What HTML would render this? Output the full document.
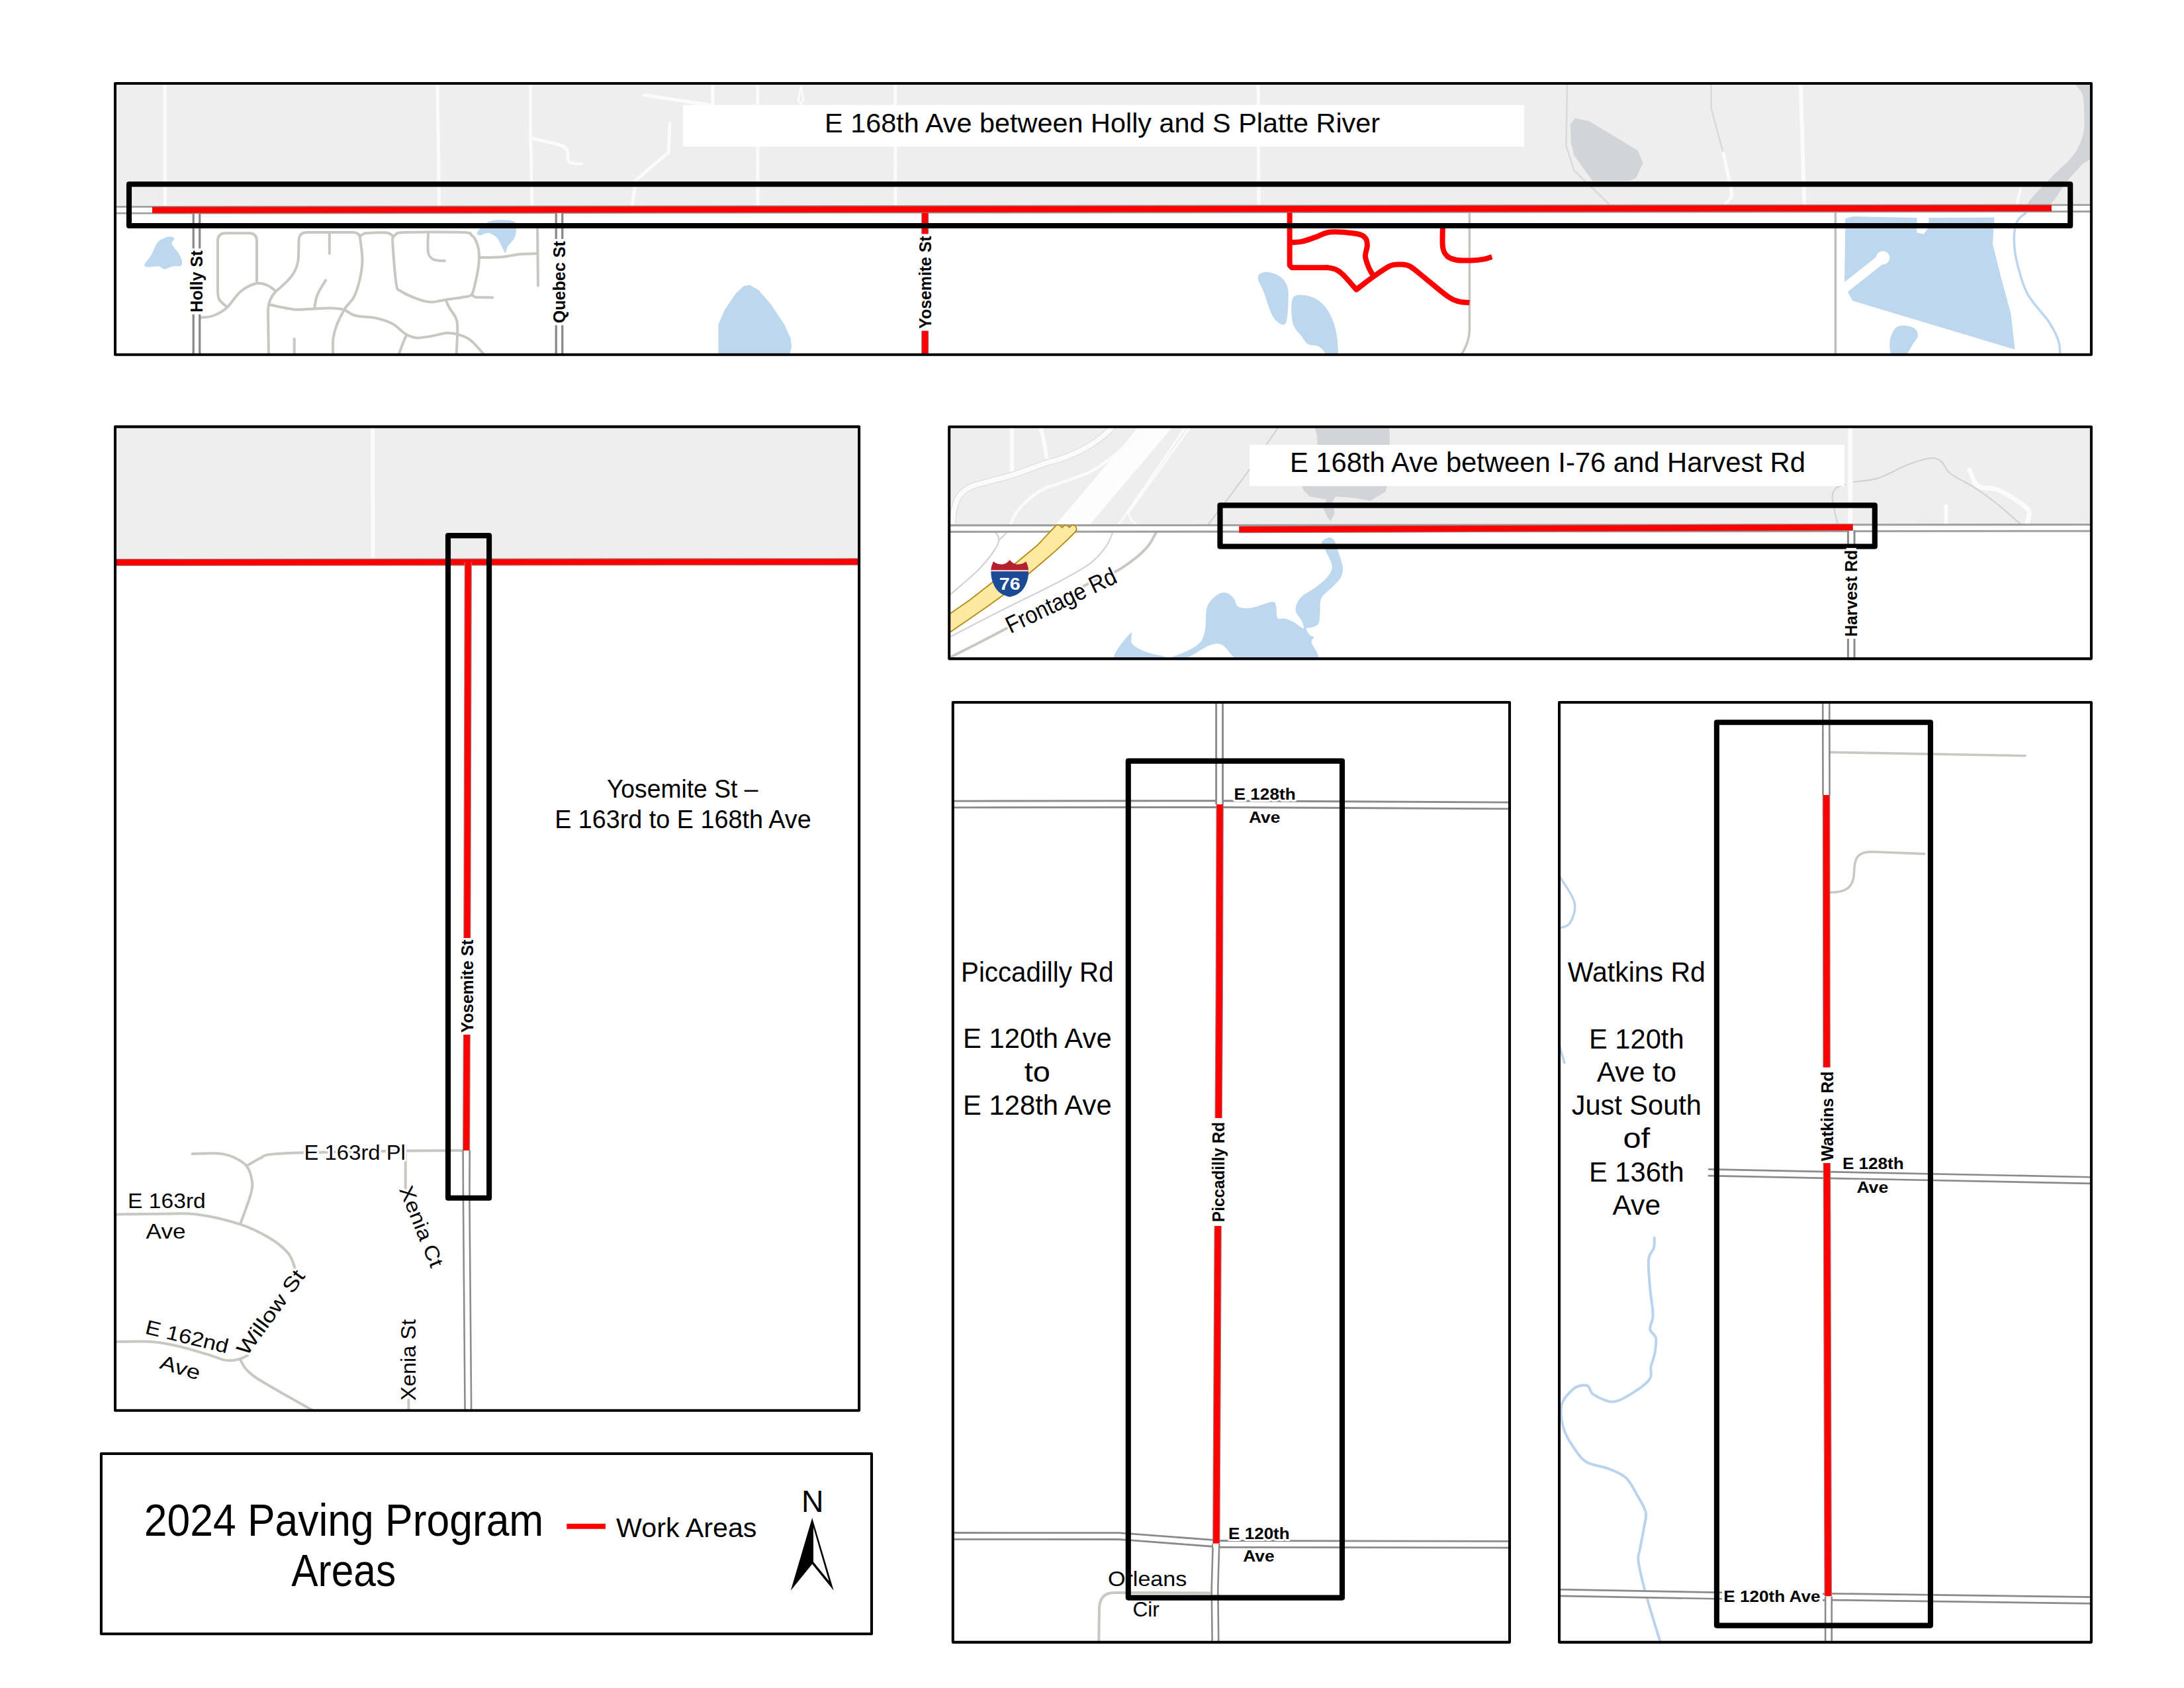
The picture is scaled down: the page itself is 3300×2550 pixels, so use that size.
<!DOCTYPE html><html><head><meta charset="utf-8"><title>2024 Paving Program Areas</title><style>html,body{margin:0;padding:0;background:#fff}body{width:3300px;height:2550px;overflow:hidden}</style></head><body><svg width="3300" height="2550" viewBox="0 0 3300 2550" style="display:block">
<defs>
<clipPath id="cp1"><rect x="174.0" y="126.0" width="2985.9" height="409.70000000000005"/></clipPath>
<clipPath id="cp2"><rect x="174.0" y="644.6" width="1124.1" height="1486.2000000000003"/></clipPath>
<clipPath id="cp3"><rect x="1434.2" y="644.7" width="1725.7" height="350.4"/></clipPath>
<clipPath id="cp4"><rect x="1439.8" y="1061.05" width="841.2" height="1419.7500000000002"/></clipPath>
<clipPath id="cp5"><rect x="2356.0" y="1061.05" width="803.9000000000001" height="1419.7500000000002"/></clipPath>
<clipPath id="clg"><rect x="152.9" y="2196.0" width="1164.1" height="272.1999999999998"/></clipPath>
</defs>
<rect width="3300" height="2550" fill="#fff"/>
<g clip-path="url(#cp1)">
<path d="M170.0,120.0 L3165.0,120.0 L3165.0,309.2 L170.0,311.8Z" fill="#eeeeee" />
<path d="M3135.3,124.0 C3137.9,120.9 3157.6,106.8 3162.0,124.0 C3166.4,141.2 3164.8,206.1 3162.0,227.0 C3159.2,247.9 3151.8,241.5 3145.3,249.4 C3138.8,257.3 3131.2,264.1 3122.9,274.2 C3114.6,284.3 3105.4,304.0 3095.5,310.0 C3085.6,316.0 3062.8,316.8 3063.2,310.0 C3063.6,303.2 3086.4,281.9 3098.0,269.3 C3109.6,256.7 3124.5,245.6 3132.8,234.4 C3141.1,223.2 3145.1,212.8 3147.8,202.0 C3150.5,191.2 3149.2,179.7 3149.0,169.8 C3148.8,159.9 3148.8,150.0 3146.5,142.4 C3144.2,134.8 3132.7,127.1 3135.3,124.0Z" fill="#d1d5d7" />
<path d="M2372.7,188.7 L2379.6,178.4 L2401.3,183.0 L2474.6,227.6 L2482.6,245.9 L2472.3,268.8 L2463.0,272.9 L2406.0,272.9 L2378.4,234.5 L2373.9,216.0Z" fill="#d1d5d7" />
<path d="M249.0,124.0 L249.5,310.0" fill="none" stroke="#fbfbfb" stroke-width="5" stroke-linecap="round" stroke-linejoin="round" />
<path d="M661.0,124.0 L663.5,310.0" fill="none" stroke="#fbfbfb" stroke-width="5" stroke-linecap="round" stroke-linejoin="round" />
<path d="M801.5,124.0 L801.8,208.0 L804.0,310.0" fill="none" stroke="#fbfbfb" stroke-width="4.5" stroke-linecap="round" stroke-linejoin="round" />
<path d="M803.3,209.0 C809.7,210.5 832.9,215.2 841.8,218.0 C850.6,220.8 853.4,221.6 856.4,226.0 C859.4,230.4 856.3,240.9 860.0,244.5 C863.7,248.1 875.3,247.0 878.4,247.5" fill="none" stroke="#fbfbfb" stroke-width="5" stroke-linecap="round" stroke-linejoin="round" />
<path d="M973.6,143.8 L1072.5,158.5" fill="none" stroke="#fbfbfb" stroke-width="5" stroke-linecap="round" stroke-linejoin="round" />
<path d="M1077.0,124.0 L1077.0,160.0" fill="none" stroke="#fbfbfb" stroke-width="5" stroke-linecap="round" stroke-linejoin="round" />
<path d="M1144.7,124.0 L1145.0,310.0" fill="none" stroke="#fbfbfb" stroke-width="5" stroke-linecap="round" stroke-linejoin="round" />
<path d="M1352.7,124.0 L1353.0,310.0" fill="none" stroke="#fbfbfb" stroke-width="5" stroke-linecap="round" stroke-linejoin="round" />
<path d="M1210.0,131.0 L1206.0,152.0 L1210.0,157.0 L1214.0,150.0 L1210.0,131.0" fill="none" stroke="#fbfbfb" stroke-width="3" stroke-linecap="round" stroke-linejoin="round" />
<path d="M1012.0,186.0 L1010.3,230.0 L960.8,272.0 L955.3,310.0" fill="none" stroke="#fbfbfb" stroke-width="5" stroke-linecap="round" stroke-linejoin="round" />
<path d="M1901.0,124.0 L1902.0,310.0" fill="none" stroke="#fbfbfb" stroke-width="5" stroke-linecap="round" stroke-linejoin="round" />
<path d="M2720.7,124.0 L2726.4,310.0" fill="none" stroke="#fbfbfb" stroke-width="6" stroke-linecap="round" stroke-linejoin="round" />
<path d="M2604.0,232.0 L2616.5,289.4 L2615.4,298.6 L2607.4,308.0" fill="none" stroke="#fbfbfb" stroke-width="5" stroke-linecap="round" stroke-linejoin="round" />
<path d="M3053.2,285.4 L3047.0,310.0" fill="none" stroke="#fbfbfb" stroke-width="4" stroke-linecap="round" stroke-linejoin="round" />
<path d="M2368.0,124.0 L2366.5,220.7 L2378.4,257.4 L2387.6,266.5 L2431.0,308.0" fill="none" stroke="#d9d9d9" stroke-width="2.5" stroke-linecap="round" stroke-linejoin="round" />
<path d="M2585.6,124.0 L2585.6,163.5 L2602.8,227.6" fill="none" stroke="#d9d9d9" stroke-width="2.5" stroke-linecap="round" stroke-linejoin="round" />
<path d="M256.0,357.5 C258.8,357.5 262.8,358.4 263.4,360.2 C264.0,362.0 258.8,365.0 259.7,368.5 C260.6,372.0 266.4,377.3 268.9,381.3 C271.3,385.3 273.6,389.0 274.4,392.3 C275.2,395.6 275.6,399.7 273.5,401.4 C271.4,403.1 265.7,401.4 261.6,402.3 C257.5,403.2 252.5,406.6 248.8,406.6 C245.1,406.6 243.9,402.9 239.6,402.3 C235.3,401.8 226.6,403.8 223.1,403.3 C219.6,402.9 217.6,402.7 218.5,399.6 C219.4,396.6 225.4,390.5 228.6,385.0 C231.8,379.5 234.8,370.7 237.8,366.6 C240.9,362.5 243.9,361.7 246.9,360.2 C249.9,358.7 253.2,357.5 256.0,357.5Z" fill="#bdd7ee" />
<path d="M721.5,350.0 C724.3,346.4 732.5,336.3 741.6,333.7 C750.8,331.1 770.0,332.2 776.4,334.6 C782.8,337.0 780.0,343.9 780.0,348.3 C780.0,352.7 778.5,357.1 776.4,361.0 C774.3,364.9 769.4,368.5 767.3,372.0 C765.2,375.5 765.1,382.0 763.6,382.0 C762.1,382.0 760.1,375.8 758.0,372.0 C755.9,368.2 754.1,362.6 750.8,359.3 C747.5,356.0 742.3,352.6 738.0,352.0 C733.7,351.4 727.8,355.9 725.0,355.6 C722.2,355.3 718.7,353.6 721.5,350.0Z" fill="#bdd7ee" />
<path d="M1085.5,540.0 L1085.5,490.0 L1095.0,468.0 L1112.0,443.0 L1124.0,432.0 L1133.0,430.5 L1146.0,438.0 L1165.0,460.0 L1185.0,490.0 L1195.0,512.0 L1196.0,524.0 L1192.0,540.0Z" fill="#bdd7ee" />
<path d="M1900.6,419.0 C1901.0,413.8 1906.7,411.4 1912.0,411.0 C1917.3,410.6 1927.2,413.2 1932.7,416.8 C1938.2,420.4 1942.9,425.6 1945.2,432.8 C1947.5,440.1 1946.8,451.2 1946.4,460.3 C1946.0,469.4 1945.3,483.1 1943.0,487.7 C1940.7,492.3 1936.3,490.5 1932.7,488.2 C1929.1,485.9 1925.0,481.7 1921.2,474.0 C1917.4,466.3 1913.2,451.2 1909.8,442.0 C1906.4,432.8 1900.2,424.2 1900.6,419.0Z" fill="#bdd7ee" />
<path d="M1953.3,451.0 C1956.3,444.1 1964.7,445.2 1971.6,446.0 C1978.5,446.8 1988.0,450.6 1994.5,455.7 C2001.0,460.8 2006.3,467.9 2010.5,476.3 C2014.7,484.7 2018.0,495.4 2019.7,506.0 C2021.4,516.6 2022.7,534.3 2020.8,540.0 C2018.9,545.7 2012.6,542.6 2008.2,540.0 C2003.8,537.4 1999.8,527.8 1994.5,524.4 C1989.2,521.0 1980.8,522.5 1976.2,519.8 C1971.6,517.1 1970.8,513.6 1967.0,508.3 C1963.2,503.0 1955.6,497.2 1953.3,487.7 C1951.0,478.1 1950.2,457.9 1953.3,451.0Z" fill="#bdd7ee" />
<path d="M2788.3,330.2 L2799.5,327.0 L2896.5,329.0 L2896.5,351.3 L2906.5,353.8 L2914.0,343.9 L2914.4,329.0 L3013.4,328.5 L3011.0,368.8 L3023.4,418.5 L3038.3,473.2 L3044.5,528.0 L2799.5,454.6 L2794.5,446.0 L2787.0,430.0Z" fill="#bdd7ee" />
<path d="M2780.0,441.0 L2845.0,389.5" fill="none" stroke="#fff" stroke-width="14.5" stroke-linecap="butt" stroke-linejoin="round" />
<circle cx="2845" cy="389.5" r="10.3" fill="#fff"/>
<path d="M2855.5,515.5 C2856.3,508.1 2860.3,499.5 2864.2,495.6 C2868.1,491.7 2874.0,491.7 2879.0,491.9 C2884.0,492.1 2890.9,494.2 2894.0,496.9 C2897.1,499.6 2898.2,504.5 2897.8,508.0 C2897.4,511.5 2895.0,512.7 2891.5,518.0 C2888.0,523.3 2882.0,536.3 2876.6,540.0 C2871.2,543.7 2862.7,544.1 2859.2,540.0 C2855.7,535.9 2854.7,522.9 2855.5,515.5Z" fill="#bdd7ee" />
<path d="M3060.7,322.0 C3058.6,324.0 3051.2,327.9 3048.3,334.0 C3045.4,340.1 3043.5,348.9 3043.3,358.8 C3043.1,368.7 3043.7,379.5 3047.0,393.6 C3050.3,407.7 3055.1,428.0 3063.2,443.4 C3071.3,458.8 3087.6,473.7 3095.5,485.7 C3103.4,497.7 3107.5,506.4 3110.4,515.5 C3113.3,524.5 3112.6,535.9 3113.0,540.0" fill="none" stroke="#bcd5ef" stroke-width="3.5" stroke-linecap="round" stroke-linejoin="round" />
<path d="M329,440 L329,364 Q329,352.3 341,352.3 L376,352.3 Q388,352.3 388,364 L388,426" fill="none" stroke="#c9c7c1" stroke-width="4"/>
<path d="M329.0,438.0 C329.3,440.3 328.8,447.8 331.0,452.0 C333.2,456.2 340.2,461.2 342.0,463.0" fill="none" stroke="#c9c7c1" stroke-width="4" stroke-linecap="round" stroke-linejoin="round" />
<path d="M303.3,479.8 C306.4,479.3 315.6,479.4 322.0,477.0 C328.4,474.6 335.0,471.7 342.0,465.5 C349.0,459.3 356.3,446.2 364.0,440.0 C371.7,433.8 381.3,429.5 388.0,428.0 C394.7,426.5 399.2,429.0 404.0,431.0 C408.8,433.0 414.8,438.5 417.0,440.0" fill="none" stroke="#c9c7c1" stroke-width="4" stroke-linecap="round" stroke-linejoin="round" />
<path d="M544.5,360 Q543,351 533,351 L464,351 Q451.5,351 451.5,364 L451,388 C450,412 435,425 417,440 C410,447 405.5,455 405,469 L406,540" fill="none" stroke="#c9c7c1" stroke-width="4"/>
<path d="M406.0,460.0 C412.4,461.2 433.4,466.3 444.7,467.4 C456.0,468.5 464.8,466.7 474.0,466.4 C483.2,466.1 492.0,465.2 499.7,465.5 C507.4,465.8 514.0,466.2 520.0,468.0 C526.0,469.8 527.7,474.3 536.0,476.5 C544.3,478.7 560.5,478.9 570.0,481.0 C579.5,483.1 586.1,485.3 593.3,489.3 C600.5,493.3 607.3,501.5 613.4,505.0 C619.5,508.5 623.5,509.9 629.9,510.4 C636.3,510.8 644.3,508.9 651.9,507.7 C659.5,506.5 668.7,503.3 675.7,503.0 C682.7,502.7 687.9,503.8 694.0,505.8 C700.1,507.8 705.5,509.3 712.3,515.0 C719.1,520.7 731.2,535.8 735.0,540.0" fill="none" stroke="#c9c7c1" stroke-width="4" stroke-linecap="round" stroke-linejoin="round" />
<path d="M497.8,352.0 L497.8,383.0" fill="none" stroke="#c9c7c1" stroke-width="4" stroke-linecap="round" stroke-linejoin="round" />
<path d="M492.0,423.4 C489.9,427.1 482.3,438.4 479.5,445.4 C476.7,452.4 475.8,462.1 475.0,465.5" fill="none" stroke="#c9c7c1" stroke-width="4" stroke-linecap="round" stroke-linejoin="round" />
<path d="M543.8,357.5 C544.4,363.2 547.5,381.3 547.5,392.0 C547.5,402.7 545.9,412.1 543.8,421.6 C541.6,431.1 538.3,441.7 534.6,449.0 C530.9,456.3 525.9,458.5 521.6,465.5 C517.3,472.5 511.9,483.1 508.8,491.0 C505.8,498.9 504.2,504.8 503.3,513.0 C502.4,521.2 503.3,535.5 503.3,540.0" fill="none" stroke="#c9c7c1" stroke-width="4" stroke-linecap="round" stroke-linejoin="round" />
<path d="M444.7,512.0 L444.7,540.0" fill="none" stroke="#c9c7c1" stroke-width="4" stroke-linecap="round" stroke-linejoin="round" />
<path d="M543.8,357.0 C544.8,356.3 547.9,353.8 550.0,353.0 C552.1,352.2 550.9,352.2 556.6,352.0 C562.3,351.8 577.6,350.7 584.0,351.6 C590.4,352.5 593.2,356.5 595.0,357.5" fill="none" stroke="#c9c7c1" stroke-width="4" stroke-linecap="round" stroke-linejoin="round" />
<path d="M598.8,353.8 C600.9,353.3 594.8,351.5 611.6,351.0 C628.4,350.5 682.8,350.3 699.5,351.0 C716.2,351.7 709.0,353.3 712.0,355.0 C715.0,356.7 715.9,357.2 717.8,361.0 C719.7,364.8 722.4,371.2 723.3,377.6 C724.2,384.0 724.2,391.0 723.3,399.6 C722.4,408.2 719.6,421.4 717.8,429.0 C716.0,436.6 715.3,442.1 712.3,445.4 C709.2,448.7 705.9,447.8 699.5,449.0 C693.1,450.2 681.7,451.5 673.8,452.7 C665.9,453.9 658.6,456.4 651.9,456.4 C645.2,456.4 641.2,455.4 633.6,452.7 C626.0,450.0 611.8,443.9 606.0,440.0 C600.2,436.1 600.9,441.2 598.8,429.0 C596.7,416.8 593.9,378.6 593.3,366.6 C592.7,354.6 594.1,359.1 595.0,357.0 C595.9,354.9 598.2,354.3 598.8,353.8" fill="none" stroke="#c9c7c1" stroke-width="4" stroke-linecap="round" stroke-linejoin="round" />
<path d="M647.0,352.0 C647.0,356.9 645.6,374.6 647.0,381.3 C648.4,388.0 651.3,390.2 655.5,392.3 C659.7,394.4 669.2,393.7 672.0,394.0" fill="none" stroke="#c9c7c1" stroke-width="4" stroke-linecap="round" stroke-linejoin="round" />
<path d="M724.2,389.0 C729.8,388.9 747.8,389.0 758.0,388.2 C768.2,387.4 776.7,384.9 785.6,384.0 C794.5,383.1 806.9,383.2 811.2,383.0" fill="none" stroke="#c9c7c1" stroke-width="4" stroke-linecap="round" stroke-linejoin="round" />
<path d="M812.1,345.6 L813.0,431.6" fill="none" stroke="#c9c7c1" stroke-width="4" stroke-linecap="round" stroke-linejoin="round" />
<path d="M713.2,445.4 L717.8,449.0 L744.4,449.6" fill="none" stroke="#c9c7c1" stroke-width="4" stroke-linecap="round" stroke-linejoin="round" />
<path d="M673.8,453.6 C674.7,455.6 676.8,461.1 679.3,465.5 C681.8,469.9 686.5,475.1 688.5,480.0 C690.5,484.9 691.1,484.8 691.2,494.8 C691.4,504.8 689.7,532.5 689.4,540.0" fill="none" stroke="#c9c7c1" stroke-width="4" stroke-linecap="round" stroke-linejoin="round" />
<path d="M614.3,505.8 C613.2,508.2 610.2,514.8 608.0,520.5 C605.8,526.2 602.2,536.8 601.0,540.0" fill="none" stroke="#c9c7c1" stroke-width="4" stroke-linecap="round" stroke-linejoin="round" />
<path d="M2220.4,320.6 L2220.4,498 Q2220,520 2205,540" fill="none" stroke="#c6c5c0" stroke-width="3.5"/>
<path d="M2773.4,320.0 L2773.4,540.0" fill="none" stroke="#c0beb8" stroke-width="3.5" stroke-linecap="round" stroke-linejoin="round" />
<path d="M170.0,317.3 L3165.0,314.6" fill="none" stroke="#a0a0a0" stroke-width="12.6" stroke-linecap="butt" stroke-linejoin="round" />
<path d="M170.0,317.3 L3165.0,314.6" fill="none" stroke="#ffffff" stroke-width="7" stroke-linecap="butt" stroke-linejoin="round" />
<path d="M297.0,322.0 L297.0,540.0" fill="none" stroke="#8a8a8a" stroke-width="12.8" stroke-linecap="butt" stroke-linejoin="round" />
<path d="M297.0,322.0 L297.0,540.0" fill="none" stroke="#ffffff" stroke-width="6.2" stroke-linecap="butt" stroke-linejoin="round" />
<path d="M845.0,322.0 L845.0,540.0" fill="none" stroke="#8a8a8a" stroke-width="12.8" stroke-linecap="butt" stroke-linejoin="round" />
<path d="M845.0,322.0 L845.0,540.0" fill="none" stroke="#ffffff" stroke-width="6.2" stroke-linecap="butt" stroke-linejoin="round" />
<path d="M1948.7,318.0 L1948.7,400.7 L1952.0,404.2 L2006.0,404.2" fill="none" stroke="#fe0000" stroke-width="8" stroke-linecap="butt" stroke-linejoin="round" />
<path d="M2006.0,404.2 C2008.0,404.7 2014.2,405.3 2018.0,407.0 C2021.8,408.7 2023.6,409.4 2028.8,414.5 C2034.0,419.6 2046.0,433.6 2049.4,437.4" fill="none" stroke="#fe0000" stroke-width="8" stroke-linecap="round" stroke-linejoin="round" />
<path d="M2049.4,437.4 C2054.0,434.0 2068.5,422.7 2076.9,416.8 C2085.3,410.9 2093.7,404.8 2099.8,401.9 C2105.9,399.0 2108.6,399.6 2113.5,399.6 C2118.4,399.6 2122.6,398.3 2129.5,401.9 C2136.4,405.5 2144.8,413.5 2154.7,421.3 C2164.6,429.1 2180.6,443.1 2189.0,448.8 C2197.4,454.5 2199.8,454.3 2205.0,455.7 C2210.2,457.1 2217.8,457.0 2220.4,457.3" fill="none" stroke="#fe0000" stroke-width="8" stroke-linecap="butt" stroke-linejoin="round" />
<path d="M1948.7,366.4 C1951.8,366.1 1960.5,366.1 1967.0,364.8 C1973.5,363.5 1980.3,360.8 1987.6,358.4 C1994.8,356.0 2000.2,351.3 2010.5,350.4 C2020.8,349.5 2040.7,351.5 2049.4,353.0 C2058.2,354.5 2060.2,356.5 2063.0,359.5 C2065.8,362.5 2065.9,366.4 2065.9,371.0 C2065.9,375.6 2062.7,381.7 2063.0,387.0 C2063.3,392.3 2065.8,398.2 2067.7,403.0 C2069.6,407.8 2073.4,413.8 2074.6,416.0" fill="none" stroke="#fe0000" stroke-width="8" stroke-linecap="butt" stroke-linejoin="round" />
<path d="M2180.0,340.0 C2180.0,345.6 2178.9,365.5 2180.0,373.3 C2181.1,381.1 2183.4,383.8 2186.8,387.0 C2190.2,390.2 2194.4,391.6 2200.5,392.7 C2206.6,393.8 2216.5,393.6 2223.4,393.4 C2230.3,393.2 2236.5,392.5 2241.7,391.6 C2246.8,390.7 2252.2,388.6 2254.3,388.0" fill="none" stroke="#fe0000" stroke-width="8" stroke-linecap="butt" stroke-linejoin="round" />
<path d="M1397.7,316.0 L1397.7,540.0" fill="none" stroke="#a08080" stroke-width="11.2" stroke-linecap="butt" stroke-linejoin="round" />
<path d="M1397.7,316.0 L1397.7,540.0" fill="none" stroke="#fe0000" stroke-width="9" stroke-linecap="butt" stroke-linejoin="round" />
<path d="M230.0,317.3 L3099.8,314.4" fill="none" stroke="#a08080" stroke-width="11.2" stroke-linecap="butt" stroke-linejoin="round" />
<path d="M230.0,317.3 L3099.8,314.4" fill="none" stroke="#fe0000" stroke-width="9" stroke-linecap="butt" stroke-linejoin="round" />
</g>
<rect x="1032" y="158.5" width="1271" height="63" fill="#fff"/>
<rect x="195" y="278.2" width="2933.2" height="62.8" fill="none" stroke="#000" stroke-width="8.1" stroke-linejoin="round"/>
<rect x="174.0" y="126.0" width="2985.9" height="409.7" fill="none" stroke="#000" stroke-width="4.05" stroke-linejoin="round"/>
<rect x="289.5" y="375.4" width="15" height="99.5" fill="#fff"/>
<text x="306.3" y="425.2" font-family="'Liberation Sans', sans-serif" font-size="25.2" font-weight="bold" text-anchor="middle" textLength="93.5" lengthAdjust="spacingAndGlyphs" transform="rotate(-90 306.3 425.2)" fill="none" stroke="#fff" stroke-width="5" stroke-linejoin="round" >Holly St</text>
<text x="306.3" y="425.2" font-family="'Liberation Sans', sans-serif" font-size="25.2" font-weight="bold" text-anchor="middle" textLength="93.5" lengthAdjust="spacingAndGlyphs" transform="rotate(-90 306.3 425.2)" fill="#000" >Holly St</text>
<rect x="837.5" y="361.1" width="15" height="130.2" fill="#fff"/>
<text x="854.3" y="426.2" font-family="'Liberation Sans', sans-serif" font-size="25.2" font-weight="bold" text-anchor="middle" textLength="124.2" lengthAdjust="spacingAndGlyphs" transform="rotate(-90 854.3 426.2)" fill="none" stroke="#fff" stroke-width="5" stroke-linejoin="round" >Quebec St</text>
<text x="854.3" y="426.2" font-family="'Liberation Sans', sans-serif" font-size="25.2" font-weight="bold" text-anchor="middle" textLength="124.2" lengthAdjust="spacingAndGlyphs" transform="rotate(-90 854.3 426.2)" fill="#000" >Quebec St</text>
<rect x="1390.2" y="353.4" width="15" height="146.3" fill="#fff"/>
<text x="1406.8" y="426.5" font-family="'Liberation Sans', sans-serif" font-size="25.2" font-weight="bold" text-anchor="middle" textLength="140.3" lengthAdjust="spacingAndGlyphs" transform="rotate(-90 1406.8 426.5)" fill="none" stroke="#fff" stroke-width="5" stroke-linejoin="round" >Yosemite St</text>
<text x="1406.8" y="426.5" font-family="'Liberation Sans', sans-serif" font-size="25.2" font-weight="bold" text-anchor="middle" textLength="140.3" lengthAdjust="spacingAndGlyphs" transform="rotate(-90 1406.8 426.5)" fill="#000" >Yosemite St</text>
<text x="1665.6" y="199.8" font-family="'Liberation Sans', sans-serif" font-size="40.2" font-weight="normal" text-anchor="middle" textLength="839" lengthAdjust="spacingAndGlyphs" fill="#000" >E 168th Ave between Holly and S Platte River</text>
<g clip-path="url(#cp2)">
<rect x="170" y="640" width="1135" height="203.5" fill="#eeeeee"/>
<path d="M563.0,640.0 L563.5,843.0" fill="none" stroke="#fbfbfb" stroke-width="6" stroke-linecap="round" stroke-linejoin="round" />
<path d="M290.5,1743.1 C297.1,1743.0 320.0,1741.8 330.3,1742.6 C340.6,1743.4 345.2,1744.8 352.3,1748.0 C359.4,1751.2 368.1,1755.1 372.9,1761.8 C377.7,1768.5 380.5,1780.0 381.2,1788.0 C381.9,1796.0 380.0,1799.9 377.0,1810.0 C374.0,1820.1 365.6,1842.0 363.3,1848.4" fill="none" stroke="#c9c7c1" stroke-width="4" stroke-linecap="round" stroke-linejoin="round" />
<path d="M372.9,1761.0 C376.3,1759.1 387.8,1752.3 393.5,1749.5 C399.2,1746.7 396.3,1745.4 407.3,1744.0 C418.3,1742.6 425.2,1742.1 459.5,1741.2 C493.8,1740.3 573.2,1739.0 613.3,1738.5 C653.3,1738.0 685.4,1738.1 699.8,1738.0" fill="none" stroke="#c9c7c1" stroke-width="4" stroke-linecap="round" stroke-linejoin="round" />
<path d="M612.7,1740.0 L612.7,1794.8" fill="none" stroke="#c9c7c1" stroke-width="4" stroke-linecap="round" stroke-linejoin="round" />
<path d="M170.0,1834.6 C182.1,1834.5 221.2,1833.8 242.4,1833.8 C263.6,1833.8 277.2,1831.9 297.4,1834.6 C317.5,1837.2 345.0,1843.8 363.3,1849.7 C381.6,1855.7 395.4,1863.2 407.3,1870.3 C419.2,1877.4 428.5,1885.4 434.7,1892.3 C440.9,1899.2 442.5,1906.5 444.3,1911.5 C446.1,1916.5 445.5,1920.7 445.7,1922.5" fill="none" stroke="#c9c7c1" stroke-width="4" stroke-linecap="round" stroke-linejoin="round" />
<path d="M374.3,2047.5 L363.3,2053.0" fill="none" stroke="#c9c7c1" stroke-width="4" stroke-linecap="round" stroke-linejoin="round" />
<path d="M170.0,2027.0 C179.8,2027.0 212.0,2025.9 228.7,2027.0 C245.3,2028.1 255.7,2030.6 269.9,2033.8 C284.1,2037.0 302.4,2042.8 313.8,2046.2 C325.2,2049.6 332.2,2052.9 338.6,2054.4 C345.0,2055.9 348.2,2055.3 352.3,2055.0 C356.4,2054.7 361.5,2052.9 363.3,2052.5" fill="none" stroke="#c9c7c1" stroke-width="4" stroke-linecap="round" stroke-linejoin="round" />
<path d="M363.3,2054.4 C364.7,2056.7 367.4,2063.4 371.5,2068.0 C375.6,2072.6 377.5,2075.1 388.0,2082.0 C398.5,2088.9 420.2,2101.0 434.7,2109.3 C449.2,2117.6 468.3,2128.2 475.0,2132.0" fill="none" stroke="#c9c7c1" stroke-width="4" stroke-linecap="round" stroke-linejoin="round" />
<path d="M617.4,2114.8 L617.4,2132.0" fill="none" stroke="#c9c7c1" stroke-width="4" stroke-linecap="round" stroke-linejoin="round" />
<path d="M699.6,1738.0 L699.9,1810.0 L702.6,2135.0" fill="none" stroke="#8c8c8c" stroke-width="2.6" stroke-linecap="butt" stroke-linejoin="round" />
<path d="M709.7,1738.0 L709.4,1810.0 L712.2,2135.0" fill="none" stroke="#8c8c8c" stroke-width="2.6" stroke-linecap="butt" stroke-linejoin="round" />
<path d="M170.0,849.6 L1305.0,848.6" fill="none" stroke="#a08080" stroke-width="11.0" stroke-linecap="butt" stroke-linejoin="round" />
<path d="M170.0,849.6 L1305.0,848.6" fill="none" stroke="#fe0000" stroke-width="8.8" stroke-linecap="butt" stroke-linejoin="round" />
<path d="M707.3,849.0 L705.6,1490.0 L704.6,1738.0" fill="none" stroke="#a08080" stroke-width="11.2" stroke-linecap="butt" stroke-linejoin="round" />
<path d="M707.3,849.0 L705.6,1490.0 L704.6,1738.0" fill="none" stroke="#fe0000" stroke-width="9" stroke-linecap="butt" stroke-linejoin="round" />
</g>
<rect x="677" y="809.1" width="62.1" height="1000.6" fill="none" stroke="#000" stroke-width="8.1" stroke-linejoin="round"/>
<rect x="174.0" y="644.6" width="1124.1" height="1486.2" fill="none" stroke="#000" stroke-width="4.05" stroke-linejoin="round"/>
<rect x="697.5" y="1417" width="17" height="146" fill="#fff"/>
<text x="714.7" y="1489.8" font-family="'Liberation Sans', sans-serif" font-size="25.2" font-weight="bold" text-anchor="middle" textLength="140.8" lengthAdjust="spacingAndGlyphs" transform="rotate(-90 714.7 1489.8)" fill="none" stroke="#fff" stroke-width="5" stroke-linejoin="round" >Yosemite St</text>
<text x="714.7" y="1489.8" font-family="'Liberation Sans', sans-serif" font-size="25.2" font-weight="bold" text-anchor="middle" textLength="140.8" lengthAdjust="spacingAndGlyphs" transform="rotate(-90 714.7 1489.8)" fill="#000" >Yosemite St</text>
<text x="1031.2" y="1205.4" font-family="'Liberation Sans', sans-serif" font-size="38.2" font-weight="normal" text-anchor="middle" textLength="228.5" lengthAdjust="spacingAndGlyphs" fill="#000" >Yosemite St –</text>
<text x="1031.9" y="1250.7" font-family="'Liberation Sans', sans-serif" font-size="38.2" font-weight="normal" text-anchor="middle" textLength="387.5" lengthAdjust="spacingAndGlyphs" fill="#000" >E 163rd to E 168th Ave</text>
<text x="459.59999999999997" y="1752.2" font-family="'Liberation Sans', sans-serif" font-size="30.5" font-weight="normal" text-anchor="start" textLength="153.3" lengthAdjust="spacingAndGlyphs" fill="none" stroke="#fff" stroke-width="6" stroke-linejoin="round" dominant-baseline="auto">E 163rd Pl</text>
<text x="459.59999999999997" y="1752.2" font-family="'Liberation Sans', sans-serif" font-size="30.5" font-weight="normal" text-anchor="start" textLength="153.3" lengthAdjust="spacingAndGlyphs" fill="#000" dominant-baseline="auto">E 163rd Pl</text>
<text x="193.1" y="1825" font-family="'Liberation Sans', sans-serif" font-size="30.5" font-weight="normal" text-anchor="start" textLength="117.7" lengthAdjust="spacingAndGlyphs" fill="none" stroke="#fff" stroke-width="6" stroke-linejoin="round" dominant-baseline="auto">E 163rd</text>
<text x="193.1" y="1825" font-family="'Liberation Sans', sans-serif" font-size="30.5" font-weight="normal" text-anchor="start" textLength="117.7" lengthAdjust="spacingAndGlyphs" fill="#000" dominant-baseline="auto">E 163rd</text>
<text x="220.6" y="1870.9" font-family="'Liberation Sans', sans-serif" font-size="30.5" font-weight="normal" text-anchor="start" textLength="60" lengthAdjust="spacingAndGlyphs" fill="none" stroke="#fff" stroke-width="6" stroke-linejoin="round" dominant-baseline="auto">Ave</text>
<text x="220.6" y="1870.9" font-family="'Liberation Sans', sans-serif" font-size="30.5" font-weight="normal" text-anchor="start" textLength="60" lengthAdjust="spacingAndGlyphs" fill="#000" dominant-baseline="auto">Ave</text>
<text x="637.2" y="1852.5" font-family="'Liberation Sans', sans-serif" font-size="30.5" font-weight="normal" text-anchor="middle" textLength="129.5" lengthAdjust="spacingAndGlyphs" transform="rotate(68 637.2 1852.5)" fill="none" stroke="#fff" stroke-width="6" stroke-linejoin="round" dominant-baseline="central">Xenia Ct</text>
<text x="637.2" y="1852.5" font-family="'Liberation Sans', sans-serif" font-size="30.5" font-weight="normal" text-anchor="middle" textLength="129.5" lengthAdjust="spacingAndGlyphs" transform="rotate(68 637.2 1852.5)" fill="#000" dominant-baseline="central">Xenia Ct</text>
<text x="408.6" y="1982.2" font-family="'Liberation Sans', sans-serif" font-size="30.5" font-weight="normal" text-anchor="middle" textLength="151.4" lengthAdjust="spacingAndGlyphs" transform="rotate(-53.8 408.6 1982.2)" fill="none" stroke="#fff" stroke-width="6" stroke-linejoin="round" dominant-baseline="central">Willow St</text>
<text x="408.6" y="1982.2" font-family="'Liberation Sans', sans-serif" font-size="30.5" font-weight="normal" text-anchor="middle" textLength="151.4" lengthAdjust="spacingAndGlyphs" transform="rotate(-53.8 408.6 1982.2)" fill="#000" dominant-baseline="central">Willow St</text>
<text x="282.8" y="2018.7" font-family="'Liberation Sans', sans-serif" font-size="30.5" font-weight="normal" text-anchor="middle" textLength="128" lengthAdjust="spacingAndGlyphs" transform="rotate(13.6 282.8 2018.7)" fill="none" stroke="#fff" stroke-width="6" stroke-linejoin="round" dominant-baseline="central">E 162nd</text>
<text x="282.8" y="2018.7" font-family="'Liberation Sans', sans-serif" font-size="30.5" font-weight="normal" text-anchor="middle" textLength="128" lengthAdjust="spacingAndGlyphs" transform="rotate(13.6 282.8 2018.7)" fill="#000" dominant-baseline="central">E 162nd</text>
<text x="272.6" y="2065.4" font-family="'Liberation Sans', sans-serif" font-size="30.5" font-weight="normal" text-anchor="middle" textLength="62" lengthAdjust="spacingAndGlyphs" transform="rotate(17 272.6 2065.4)" fill="none" stroke="#fff" stroke-width="6" stroke-linejoin="round" dominant-baseline="central">Ave</text>
<text x="272.6" y="2065.4" font-family="'Liberation Sans', sans-serif" font-size="30.5" font-weight="normal" text-anchor="middle" textLength="62" lengthAdjust="spacingAndGlyphs" transform="rotate(17 272.6 2065.4)" fill="#000" dominant-baseline="central">Ave</text>
<text x="617.4" y="2054.4" font-family="'Liberation Sans', sans-serif" font-size="30.5" font-weight="normal" text-anchor="middle" textLength="123" lengthAdjust="spacingAndGlyphs" transform="rotate(-90 617.4 2054.4)" fill="none" stroke="#fff" stroke-width="6" stroke-linejoin="round" dominant-baseline="central">Xenia St</text>
<text x="617.4" y="2054.4" font-family="'Liberation Sans', sans-serif" font-size="30.5" font-weight="normal" text-anchor="middle" textLength="123" lengthAdjust="spacingAndGlyphs" transform="rotate(-90 617.4 2054.4)" fill="#000" dominant-baseline="central">Xenia St</text>
<g clip-path="url(#cp3)">
<rect x="1430" y="640" width="1735" height="152.5" fill="#eeeeee"/>
<path d="M1984.5,640.0 L2099.0,640.0 L2100.0,669.8 L2096.0,735.0 L2093.3,743.0 L2070.4,756.8 L2047.5,752.2 L2017.7,750.0 L2013.2,759.0 L2016.6,775.0 L2010.9,787.5 L2006.3,782.0 L1999.4,768.2 L2004.0,754.5 L1978.8,750.0 L1969.7,740.7 L1967.4,735.0 L1990.3,672.0 L1990.3,658.3Z" fill="#d1d5d7" />
<path d="M1724.9,640.0 L1776.0,640.0 L1646.0,793.0 L1594.8,793.0Z" fill="#fdfdfd" />
<path d="M1529.0,640.0 L1529.0,712.3" fill="none" stroke="#fbfbfb" stroke-width="6.4" stroke-linecap="round" stroke-linejoin="round" />
<path d="M1571.0,640.0 C1572.0,644.2 1575.2,655.8 1577.0,665.0 C1578.8,674.2 1581.2,690.0 1582.0,695.0" fill="none" stroke="#fbfbfb" stroke-width="6" stroke-linecap="round" stroke-linejoin="round" />
<path d="M1681.0,643.0 C1680.1,644.3 1680.6,646.3 1675.4,651.0 C1670.2,655.7 1660.2,664.6 1649.8,671.0 C1639.4,677.4 1624.3,684.8 1613.0,689.5 C1601.7,694.2 1595.7,694.4 1582.0,699.0 C1568.3,703.6 1545.4,712.6 1530.7,717.3 C1516.0,722.0 1504.7,724.2 1494.0,727.3 C1483.3,730.3 1474.0,732.0 1466.6,735.6 C1459.2,739.2 1453.7,743.3 1449.5,749.0 C1445.3,754.7 1443.2,762.7 1441.5,770.0 C1439.8,777.3 1439.4,789.2 1439.0,793.0" fill="none" stroke="#dedede" stroke-width="10" stroke-linecap="round" stroke-linejoin="round" />
<path d="M1681.0,643.0 C1680.1,644.3 1680.6,646.3 1675.4,651.0 C1670.2,655.7 1660.2,664.6 1649.8,671.0 C1639.4,677.4 1624.3,684.8 1613.0,689.5 C1601.7,694.2 1595.7,694.4 1582.0,699.0 C1568.3,703.6 1545.4,712.6 1530.7,717.3 C1516.0,722.0 1504.7,724.2 1494.0,727.3 C1483.3,730.3 1474.0,732.0 1466.6,735.6 C1459.2,739.2 1453.7,743.3 1449.5,749.0 C1445.3,754.7 1443.2,762.7 1441.5,770.0 C1439.8,777.3 1439.4,789.2 1439.0,793.0" fill="none" stroke="#fbfbfb" stroke-width="7.5" stroke-linecap="round" stroke-linejoin="round" />
<path d="M1730.0,640.0 C1728.8,641.8 1730.3,643.4 1723.0,651.0 C1715.7,658.6 1698.6,675.7 1686.4,685.8 C1674.2,695.9 1662.0,704.7 1649.8,711.4 C1637.6,718.1 1625.2,721.4 1613.0,726.0 C1600.8,730.6 1587.2,733.5 1576.5,739.0 C1565.8,744.5 1556.3,752.3 1549.0,759.0 C1541.7,765.7 1536.3,773.5 1532.6,779.2 C1528.9,784.9 1527.9,790.7 1527.0,793.0" fill="none" stroke="#fbfbfb" stroke-width="4.5" stroke-linecap="round" stroke-linejoin="round" />
<path d="M1795.0,640.0 L1690.0,793.0" fill="none" stroke="#fbfbfb" stroke-width="3" stroke-linecap="round" stroke-linejoin="round" />
<path d="M1802.0,640.0 L1704.7,775.5 L1710.2,786.5 L1717.5,793.0" fill="none" stroke="#fbfbfb" stroke-width="3" stroke-linecap="round" stroke-linejoin="round" />
<path d="M2795.7,640.0 L2795.7,793.0" fill="none" stroke="#fbfbfb" stroke-width="7" stroke-linecap="round" stroke-linejoin="round" />
<path d="M2975.9,709.8 C2978.0,713.8 2981.1,728.8 2988.5,733.9 C2995.9,739.0 3008.3,735.2 3020.5,740.7 C3032.7,746.2 3054.2,760.1 3061.7,767.0 C3069.1,773.9 3065.2,777.7 3065.2,782.0 C3065.2,786.3 3062.3,791.2 3061.7,793.0" fill="none" stroke="#fbfbfb" stroke-width="7" stroke-linecap="round" stroke-linejoin="round" />
<path d="M2940.4,764.8 L2940.4,793.0" fill="none" stroke="#fbfbfb" stroke-width="6" stroke-linecap="round" stroke-linejoin="round" />
<path d="M1935.3,640.0 L1885.0,713.3 L1859.8,747.6 L1830.0,786.5 L1825.0,793.0" fill="none" stroke="#d2d2d2" stroke-width="2.2" stroke-linecap="round" stroke-linejoin="round" />
<path d="M2800.7,728.0 C2806.8,727.1 2823.7,726.8 2837.4,722.4 C2851.2,718.0 2869.8,706.8 2883.2,701.8 C2896.5,696.8 2909.1,693.0 2917.5,692.2 C2925.9,691.4 2928.5,693.3 2933.5,697.2 C2938.5,701.1 2938.5,708.6 2947.3,715.5 C2956.1,722.4 2974.0,730.4 2986.2,738.4 C2998.4,746.4 3009.4,754.7 3020.5,763.6 C3031.6,772.5 3047.6,787.3 3053.0,792.0" fill="none" stroke="#d2d2d2" stroke-width="2.2" stroke-linecap="round" stroke-linejoin="round" />
<path d="M2788.0,731.6 C2785.6,732.7 2776.5,734.6 2773.3,738.4 C2770.1,742.2 2768.1,745.6 2768.7,754.5 C2769.3,763.4 2775.4,785.8 2776.7,792.0" fill="none" stroke="#d2d2d2" stroke-width="2.2" stroke-linecap="round" stroke-linejoin="round" />
<path d="M1681.0,805.0 C1679.5,808.3 1677.1,817.1 1671.8,824.6 C1666.5,832.1 1660.5,841.0 1649.0,849.8 C1637.5,858.6 1622.1,866.9 1603.0,877.2 C1583.9,887.5 1553.5,902.1 1534.5,911.6 C1515.5,921.1 1506.1,925.6 1488.7,934.5 C1471.3,943.4 1439.8,959.9 1430.0,965.0" fill="none" stroke="#d2d2d2" stroke-width="2.2" stroke-linecap="round" stroke-linejoin="round" />
<path d="M1504.7,805.0 C1505.5,806.7 1509.7,811.0 1509.3,815.4 C1508.9,819.8 1507.8,823.7 1502.4,831.5 C1497.1,839.3 1489.3,850.1 1477.2,862.0 C1465.1,873.9 1437.9,896.2 1430.0,903.0" fill="none" stroke="#d2d2d2" stroke-width="2.2" stroke-linecap="round" stroke-linejoin="round" />
<path d="M1520.7,805.0 L1509.3,816.0" fill="none" stroke="#d2d2d2" stroke-width="2.2" stroke-linecap="round" stroke-linejoin="round" />
<path d="M1685.3,1000.0 C1674.0,992.7 1704.0,960.9 1708.2,956.3 C1712.4,951.7 1707.1,967.7 1710.5,972.3 C1713.9,976.9 1721.5,980.8 1728.8,983.8 C1736.0,986.8 1746.8,989.2 1754.0,990.6 C1761.2,992.0 1762.8,994.7 1772.0,992.0 C1781.2,989.3 1800.9,980.9 1809.0,974.6 C1817.1,968.3 1817.9,963.5 1820.4,954.0 C1822.9,944.5 1820.8,926.6 1823.8,917.4 C1826.8,908.2 1833.9,902.6 1838.7,899.0 C1843.5,895.4 1848.2,894.8 1852.4,895.6 C1856.6,896.4 1860.9,900.2 1863.9,903.6 C1867.0,907.0 1866.5,913.7 1870.7,916.2 C1874.9,918.7 1880.6,919.6 1889.0,918.5 C1897.4,917.4 1914.6,910.0 1921.1,909.4 C1927.6,908.8 1926.5,911.0 1928.0,915.0 C1929.5,919.0 1928.0,930.1 1930.3,933.4 C1932.6,936.6 1937.5,933.4 1941.7,934.5 C1945.9,935.6 1950.9,937.8 1955.5,940.3 C1960.1,942.8 1967.3,949.8 1969.2,949.4 C1971.1,949.0 1968.8,942.6 1966.9,938.0 C1965.0,933.4 1958.1,927.7 1957.7,922.0 C1957.3,916.3 1959.6,909.3 1964.6,903.6 C1969.6,897.9 1980.6,892.9 1987.5,887.6 C1994.4,882.3 2001.6,877.0 2005.8,871.6 C2010.0,866.2 2013.1,862.0 2012.7,855.5 C2012.3,849.0 2006.2,838.6 2003.5,832.7 C2000.8,826.8 1996.0,823.5 1996.7,820.0 C1997.5,816.5 2004.8,812.6 2008.0,812.0 C2011.2,811.4 2013.8,813.1 2016.1,816.6 C2018.4,820.1 2019.7,826.2 2021.8,832.7 C2023.9,839.2 2027.9,849.0 2028.7,855.5 C2029.5,862.0 2028.7,866.6 2026.4,871.6 C2024.1,876.6 2020.0,880.0 2015.0,885.3 C2010.0,890.6 2000.1,896.7 1996.7,903.6 C1993.3,910.5 1995.2,920.0 1994.4,926.5 C1993.6,933.0 1994.3,938.9 1992.0,942.5 C1989.7,946.1 1983.6,947.1 1980.6,948.3 C1977.6,949.4 1974.2,947.7 1973.8,949.4 C1973.4,951.1 1976.5,956.3 1978.4,958.6 C1980.3,960.9 1984.6,961.3 1985.2,963.2 C1985.8,965.1 1981.8,963.9 1981.8,970.0 C1981.8,976.1 2002.2,995.0 1985.2,1000.0 C1968.2,1005.0 1904.4,1004.6 1880.0,1000.0 C1855.6,995.4 1856.0,972.3 1838.7,972.3 C1821.4,972.3 1801.6,995.4 1776.0,1000.0 C1750.4,1004.6 1696.6,1007.3 1685.3,1000.0Z" fill="#bdd7ee" />
<path d="M1747.0,804.0 C1745.1,807.2 1740.6,817.2 1735.7,823.5 C1730.8,829.8 1725.4,835.3 1717.4,841.8 C1709.4,848.3 1700.5,855.4 1687.6,862.4 C1674.7,869.4 1668.2,869.3 1640.0,884.0 C1611.8,898.7 1553.4,931.8 1518.4,950.5 C1483.4,969.2 1444.7,988.4 1430.0,996.0" fill="none" stroke="#c9c7c1" stroke-width="4" stroke-linecap="round" stroke-linejoin="round" />
<path d="M1430.0,798.5 L3165.0,797.4" fill="none" stroke="#a0a0a0" stroke-width="12.8" stroke-linecap="butt" stroke-linejoin="round" />
<path d="M1430.0,798.5 L3165.0,797.4" fill="none" stroke="#ffffff" stroke-width="6.6" stroke-linecap="butt" stroke-linejoin="round" />
<path d="M2797.2,801.0 L2797.2,1000.0" fill="none" stroke="#8a8a8a" stroke-width="12.6" stroke-linecap="butt" stroke-linejoin="round" />
<path d="M2797.2,801.0 L2797.2,1000.0" fill="none" stroke="#ffffff" stroke-width="6.6" stroke-linecap="butt" stroke-linejoin="round" />
<path d="M1425.0,933.5 L1436.7,926.2 L1465.5,906.2 L1497.5,881.3 L1534.8,850.7 L1568.6,822.7 L1584.9,805.0 L1596.7,792.8 L1601.0,793.5 L1605.0,797.2 L1607.5,794.0 L1610.4,793.5 L1613.5,794.5 L1615.7,796.9 L1618.5,794.0 L1621.6,793.1 L1625.0,794.8 L1626.9,799.0 L1625.2,803.2 L1613.3,815.0 L1595.5,831.6 L1577.8,847.0 L1556.2,865.3 L1514.4,900.0 L1492.2,916.0 L1465.5,934.6 L1436.7,954.2 L1425.0,962.0Z" fill="#fde9a0" stroke="#b38a14" stroke-width="1.8" stroke-linejoin="round"/>
<path d="M1872.3,799.8 L2799.6,796.6" fill="none" stroke="#a08080" stroke-width="11.0" stroke-linecap="butt" stroke-linejoin="round" />
<path d="M1872.3,799.8 L2799.6,796.6" fill="none" stroke="#fe0000" stroke-width="8.8" stroke-linecap="butt" stroke-linejoin="round" />
</g>
<rect x="1888" y="672" width="899" height="62.3" fill="#fff"/>
<rect x="1843.5" y="763.3" width="989.3" height="62.2" fill="none" stroke="#000" stroke-width="8.2" stroke-linejoin="round"/>
<rect x="1434.2" y="644.7" width="1725.7" height="350.4" fill="none" stroke="#000" stroke-width="4.05" stroke-linejoin="round"/>
<g transform="translate(1525.7,845.8)"><path d="M0,0 C-3,4 -7.5,6.8 -12.2,6.8 C-17,6.8 -21.5,5.2 -24.6,2.5 C-27,7 -28.2,12 -28.3,15.3 L28.3,15.3 C28.2,12 27,7 24.6,2.5 C21.5,5.2 17,6.8 12.2,6.8 C7.5,6.8 3,4 0,0Z" fill="#b5202f"/><rect x="-28.3" y="15.3" width="56.6" height="2.2" fill="#f4c4cc"/><path d="M-28.3,17.5 L28.3,17.5 C28.6,28 25,40 17,48 C11,53 5,55 0,56 C-5,55 -11,53 -17,48 C-25,40 -28.6,28 -28.3,17.5Z" fill="#1c4a97"/></g>
<text x="1525.7" y="891.2" font-family="'Liberation Sans', sans-serif" font-size="26" font-weight="bold" text-anchor="middle" textLength="32" lengthAdjust="spacingAndGlyphs" fill="#fff" >76</text>
<rect x="2789.7" y="827.8" width="15" height="137.2" fill="#fff"/>
<text x="2806.4" y="896.4" font-family="'Liberation Sans', sans-serif" font-size="25.2" font-weight="bold" text-anchor="middle" textLength="131.2" lengthAdjust="spacingAndGlyphs" transform="rotate(-90 2806.4 896.4)" fill="none" stroke="#fff" stroke-width="5" stroke-linejoin="round" >Harvest Rd</text>
<text x="2806.4" y="896.4" font-family="'Liberation Sans', sans-serif" font-size="25.2" font-weight="bold" text-anchor="middle" textLength="131.2" lengthAdjust="spacingAndGlyphs" transform="rotate(-90 2806.4 896.4)" fill="#000" >Harvest Rd</text>
<text x="2338.4" y="713.4" font-family="'Liberation Sans', sans-serif" font-size="43.2" font-weight="normal" text-anchor="middle" textLength="779" lengthAdjust="spacingAndGlyphs" fill="#000" >E 168th Ave between I-76 and Harvest Rd</text>
<text x="1603" y="907" font-family="'Liberation Sans', sans-serif" font-size="36" font-weight="normal" text-anchor="middle" textLength="181" lengthAdjust="spacingAndGlyphs" transform="rotate(-25.6 1603 907)" fill="none" stroke="#fff" stroke-width="6" stroke-linejoin="round" dominant-baseline="central">Frontage Rd</text>
<text x="1603" y="907" font-family="'Liberation Sans', sans-serif" font-size="36" font-weight="normal" text-anchor="middle" textLength="181" lengthAdjust="spacingAndGlyphs" transform="rotate(-25.6 1603 907)" fill="#000" dominant-baseline="central">Frontage Rd</text>
<g clip-path="url(#cp4)">
<path d="M1829.4,2406.5 L1684,2406 Q1661.5,2406 1661,2430 L1660.2,2485" fill="none" stroke="#c9c7c1" stroke-width="4"/>
<path d="M1436.0,1215.0 L1842.0,1214.6 L2285.0,1217.0" fill="none" stroke="#8a8a8a" stroke-width="12.6" stroke-linecap="butt" stroke-linejoin="round" />
<path d="M1436.0,1215.0 L1842.0,1214.6 L2285.0,1217.0" fill="none" stroke="#ffffff" stroke-width="6.8" stroke-linecap="butt" stroke-linejoin="round" />
<path d="M1436.0,2320.4 L1690.0,2320.6 L1710.0,2322.0 L1836.0,2331.6" fill="none" stroke="#8a8a8a" stroke-width="12.6" stroke-linecap="butt" stroke-linejoin="round" />
<path d="M1436.0,2320.4 L1690.0,2320.6 L1710.0,2322.0 L1836.0,2331.6" fill="none" stroke="#ffffff" stroke-width="7" stroke-linecap="butt" stroke-linejoin="round" />
<path d="M1836.0,2332.4 L2285.0,2333.2" fill="none" stroke="#8a8a8a" stroke-width="12.6" stroke-linecap="butt" stroke-linejoin="round" />
<path d="M1836.0,2332.4 L2285.0,2333.2" fill="none" stroke="#ffffff" stroke-width="7" stroke-linecap="butt" stroke-linejoin="round" />
<path d="M1842.6,1056.0 L1842.6,1215.0" fill="none" stroke="#8a8a8a" stroke-width="12.8" stroke-linecap="butt" stroke-linejoin="round" />
<path d="M1842.6,1056.0 L1842.6,1215.0" fill="none" stroke="#ffffff" stroke-width="7" stroke-linecap="butt" stroke-linejoin="round" />
<path d="M1837.5,2332.0 L1835.5,2400.0 L1836.5,2485.0" fill="none" stroke="#8a8a8a" stroke-width="12.2" stroke-linecap="butt" stroke-linejoin="round" />
<path d="M1837.5,2332.0 L1835.5,2400.0 L1836.5,2485.0" fill="none" stroke="#ffffff" stroke-width="7" stroke-linecap="butt" stroke-linejoin="round" />
<rect x="1839.4" y="1209" width="6.8" height="12" fill="#fff"/>
<rect x="1833" y="2327" width="7" height="11" fill="#fff"/>
<path d="M1843.2,1215.3 L1842.3,1500.0 L1840.2,1850.0 L1837.8,2331.5" fill="none" stroke="#a08080" stroke-width="11.399999999999999" stroke-linecap="butt" stroke-linejoin="round" />
<path d="M1843.2,1215.3 L1842.3,1500.0 L1840.2,1850.0 L1837.8,2331.5" fill="none" stroke="#fe0000" stroke-width="9.2" stroke-linecap="butt" stroke-linejoin="round" />
</g>
<text x="1673.9" y="2396" font-family="'Liberation Sans', sans-serif" font-size="30.5" font-weight="normal" text-anchor="start" textLength="119.5" lengthAdjust="spacingAndGlyphs" fill="none" stroke="#fff" stroke-width="6" stroke-linejoin="round" dominant-baseline="auto">Orleans</text>
<text x="1673.9" y="2396" font-family="'Liberation Sans', sans-serif" font-size="30.5" font-weight="normal" text-anchor="start" textLength="119.5" lengthAdjust="spacingAndGlyphs" fill="#000" dominant-baseline="auto">Orleans</text>
<text x="1711.4" y="2442.1" font-family="'Liberation Sans', sans-serif" font-size="30.5" font-weight="normal" text-anchor="start" textLength="40.5" lengthAdjust="spacingAndGlyphs" fill="none" stroke="#fff" stroke-width="6" stroke-linejoin="round" dominant-baseline="auto">Cir</text>
<text x="1711.4" y="2442.1" font-family="'Liberation Sans', sans-serif" font-size="30.5" font-weight="normal" text-anchor="start" textLength="40.5" lengthAdjust="spacingAndGlyphs" fill="#000" dominant-baseline="auto">Cir</text>
<rect x="1704.8" y="1149.6" width="323.2" height="1264.0" fill="none" stroke="#000" stroke-width="8.1" stroke-linejoin="round"/>
<rect x="1439.8" y="1061.05" width="841.2" height="1419.8" fill="none" stroke="#000" stroke-width="4.05" stroke-linejoin="round"/>
<rect x="1832" y="1689" width="18" height="163" fill="#fff"/>
<text x="1850.4" y="1770.5" font-family="'Liberation Sans', sans-serif" font-size="25.2" font-weight="bold" text-anchor="middle" textLength="151" lengthAdjust="spacingAndGlyphs" transform="rotate(-90 1850.4 1770.5)" fill="none" stroke="#fff" stroke-width="5" stroke-linejoin="round" >Piccadilly Rd</text>
<text x="1850.4" y="1770.5" font-family="'Liberation Sans', sans-serif" font-size="25.2" font-weight="bold" text-anchor="middle" textLength="151" lengthAdjust="spacingAndGlyphs" transform="rotate(-90 1850.4 1770.5)" fill="#000" >Piccadilly Rd</text>
<text x="1864.5" y="1208.1" font-family="'Liberation Sans', sans-serif" font-size="24.6" font-weight="bold" text-anchor="start" textLength="93.2" lengthAdjust="spacingAndGlyphs" fill="none" stroke="#fff" stroke-width="6" stroke-linejoin="round" >E 128th</text>
<text x="1864.5" y="1208.1" font-family="'Liberation Sans', sans-serif" font-size="24.6" font-weight="bold" text-anchor="start" textLength="93.2" lengthAdjust="spacingAndGlyphs" fill="#000" >E 128th</text>
<text x="1886.8999999999999" y="1243.4" font-family="'Liberation Sans', sans-serif" font-size="24.6" font-weight="bold" text-anchor="start" textLength="47.5" lengthAdjust="spacingAndGlyphs" fill="none" stroke="#fff" stroke-width="6" stroke-linejoin="round" >Ave</text>
<text x="1886.8999999999999" y="1243.4" font-family="'Liberation Sans', sans-serif" font-size="24.6" font-weight="bold" text-anchor="start" textLength="47.5" lengthAdjust="spacingAndGlyphs" fill="#000" >Ave</text>
<text x="1856.1" y="2324.6" font-family="'Liberation Sans', sans-serif" font-size="24.6" font-weight="bold" text-anchor="start" textLength="92.60000000000001" lengthAdjust="spacingAndGlyphs" fill="none" stroke="#fff" stroke-width="6" stroke-linejoin="round" >E 120th</text>
<text x="1856.1" y="2324.6" font-family="'Liberation Sans', sans-serif" font-size="24.6" font-weight="bold" text-anchor="start" textLength="92.60000000000001" lengthAdjust="spacingAndGlyphs" fill="#000" >E 120th</text>
<text x="1878.2" y="2359.2" font-family="'Liberation Sans', sans-serif" font-size="24.6" font-weight="bold" text-anchor="start" textLength="47.5" lengthAdjust="spacingAndGlyphs" fill="none" stroke="#fff" stroke-width="6" stroke-linejoin="round" >Ave</text>
<text x="1878.2" y="2359.2" font-family="'Liberation Sans', sans-serif" font-size="24.6" font-weight="bold" text-anchor="start" textLength="47.5" lengthAdjust="spacingAndGlyphs" fill="#000" >Ave</text>
<text x="1567.3" y="1483.0" font-family="'Liberation Sans', sans-serif" font-size="42.6" font-weight="normal" text-anchor="middle" textLength="230.5" lengthAdjust="spacingAndGlyphs" fill="#000" >Piccadilly Rd</text>
<text x="1567.3" y="1583.4" font-family="'Liberation Sans', sans-serif" font-size="42.6" font-weight="normal" text-anchor="middle" textLength="224.7" lengthAdjust="spacingAndGlyphs" fill="#000" >E 120th Ave</text>
<text x="1567.3" y="1633.6" font-family="'Liberation Sans', sans-serif" font-size="42.6" font-weight="normal" text-anchor="middle" textLength="39.2" lengthAdjust="spacingAndGlyphs" fill="#000" >to</text>
<text x="1567.3" y="1683.8" font-family="'Liberation Sans', sans-serif" font-size="42.6" font-weight="normal" text-anchor="middle" textLength="224.7" lengthAdjust="spacingAndGlyphs" fill="#000" >E 128th Ave</text>
<g clip-path="url(#cp5)">
<path d="M2499.7,1869.9 C2499.6,1872.5 2500.3,1879.7 2498.9,1885.2 C2497.5,1890.7 2491.9,1892.6 2491.0,1902.8 C2490.1,1913.0 2492.1,1932.7 2493.2,1946.6 C2494.3,1960.5 2497.6,1975.8 2497.6,1986.0 C2497.6,1996.2 2492.5,2002.2 2493.2,2008.0 C2493.9,2013.8 2500.7,2015.2 2501.9,2021.0 C2503.1,2026.8 2501.8,2035.7 2500.6,2043.0 C2499.4,2050.3 2495.7,2058.4 2494.5,2065.0 C2493.3,2071.6 2496.7,2076.7 2493.2,2082.5 C2489.7,2088.3 2482.5,2094.2 2473.4,2100.0 C2464.3,2105.8 2449.4,2116.5 2438.4,2117.6 C2427.4,2118.7 2414.3,2110.6 2407.7,2106.6 C2401.1,2102.6 2403.3,2095.3 2398.9,2093.5 C2394.5,2091.7 2387.2,2092.3 2381.4,2095.6 C2375.6,2098.9 2367.6,2107.3 2363.8,2113.2 C2360.0,2119.0 2358.6,2122.7 2358.6,2130.7 C2358.6,2138.7 2360.0,2151.2 2363.8,2161.4 C2367.6,2171.6 2375.6,2184.0 2381.4,2192.0 C2387.2,2200.0 2390.9,2205.2 2398.9,2209.6 C2406.9,2214.0 2420.1,2214.7 2429.6,2218.4 C2439.1,2222.1 2448.6,2225.0 2455.9,2231.6 C2463.2,2238.2 2468.3,2249.1 2473.4,2257.9 C2478.5,2266.7 2484.8,2276.2 2486.6,2284.2 C2488.4,2292.2 2485.9,2296.5 2484.4,2306.0 C2482.9,2315.5 2479.3,2332.2 2477.8,2341.0 C2476.3,2349.8 2474.1,2347.7 2475.6,2358.7 C2477.1,2369.7 2480.9,2385.9 2486.6,2407.0 C2492.3,2428.1 2506.1,2472.0 2510.0,2485.0" fill="none" stroke="#b9d3ee" stroke-width="4" stroke-linecap="round" stroke-linejoin="round" />
<path d="M2352.0,1320.0 C2353.1,1321.2 2354.1,1319.8 2358.6,1327.2 C2363.1,1334.6 2377.0,1353.1 2379.2,1364.4 C2381.4,1375.7 2376.2,1388.6 2371.7,1395.0 C2367.2,1401.4 2355.3,1401.7 2352.0,1403.0" fill="none" stroke="#b9d3ee" stroke-width="3.5" stroke-linecap="round" stroke-linejoin="round" />
<path d="M2355.0,1575.0 L2363.8,1605.5" fill="none" stroke="#b9d3ee" stroke-width="3.5" stroke-linecap="round" stroke-linejoin="round" />
<path d="M2765.4,1136.4 L3060.0,1141.7" fill="none" stroke="#c9c7c1" stroke-width="3.6" stroke-linecap="round" stroke-linejoin="round" />
<path d="M2765.4,1348.2 C2790,1348 2801,1340 2801.5,1318 C2802,1296 2806,1287 2828.5,1286.8 L2907.5,1289.9" fill="none" stroke="#c9c7c1" stroke-width="3.6" stroke-linecap="round"/>
<path d="M2581.0,1771.3 L3165.0,1783.2" fill="none" stroke="#8a8a8a" stroke-width="12.4" stroke-linecap="butt" stroke-linejoin="round" />
<path d="M2581.0,1771.3 L3165.0,1783.2" fill="none" stroke="#ffffff" stroke-width="7" stroke-linecap="butt" stroke-linejoin="round" />
<path d="M2352.0,2405.9 L2594.0,2410.4 L2757.0,2412.6" fill="none" stroke="#8a8a8a" stroke-width="12.4" stroke-linecap="butt" stroke-linejoin="round" />
<path d="M2352.0,2405.9 L2594.0,2410.4 L2757.0,2412.6" fill="none" stroke="#ffffff" stroke-width="7" stroke-linecap="butt" stroke-linejoin="round" />
<path d="M2767.0,2412.2 L3165.0,2417.5" fill="none" stroke="#8a8a8a" stroke-width="12.4" stroke-linecap="butt" stroke-linejoin="round" />
<path d="M2767.0,2412.2 L3165.0,2417.5" fill="none" stroke="#ffffff" stroke-width="7" stroke-linecap="butt" stroke-linejoin="round" />
<path d="M2759.2,1056.0 L2759.5,1201.0" fill="none" stroke="#8a8a8a" stroke-width="12.6" stroke-linecap="butt" stroke-linejoin="round" />
<path d="M2759.2,1056.0 L2759.5,1201.0" fill="none" stroke="#ffffff" stroke-width="7.4" stroke-linecap="butt" stroke-linejoin="round" />
<path d="M2762.9,2412.0 L2762.9,2485.0" fill="none" stroke="#8a8a8a" stroke-width="12.2" stroke-linecap="butt" stroke-linejoin="round" />
<path d="M2762.9,2412.0 L2762.9,2485.0" fill="none" stroke="#ffffff" stroke-width="7" stroke-linecap="butt" stroke-linejoin="round" />
<path d="M2759.5,1201.0 L2760.2,1700.0 L2762.2,2411.2" fill="none" stroke="#a08080" stroke-width="11.600000000000001" stroke-linecap="butt" stroke-linejoin="round" />
<path d="M2759.5,1201.0 L2760.2,1700.0 L2762.2,2411.2" fill="none" stroke="#fe0000" stroke-width="9.4" stroke-linecap="butt" stroke-linejoin="round" />
</g>
<rect x="2593.9" y="1091.2" width="323.0" height="1364.4" fill="none" stroke="#000" stroke-width="8.1" stroke-linejoin="round"/>
<rect x="2356.0" y="1061.05" width="803.9" height="1419.8" fill="none" stroke="#000" stroke-width="4.05" stroke-linejoin="round"/>
<rect x="2751" y="1612.5" width="19.5" height="144.5" fill="#fff"/>
<text x="2769.7" y="1686.2" font-family="'Liberation Sans', sans-serif" font-size="25.2" font-weight="bold" text-anchor="middle" textLength="135.5" lengthAdjust="spacingAndGlyphs" transform="rotate(-90 2769.7 1686.2)" fill="none" stroke="#fff" stroke-width="5" stroke-linejoin="round" >Watkins Rd</text>
<text x="2769.7" y="1686.2" font-family="'Liberation Sans', sans-serif" font-size="25.2" font-weight="bold" text-anchor="middle" textLength="135.5" lengthAdjust="spacingAndGlyphs" transform="rotate(-90 2769.7 1686.2)" fill="#000" >Watkins Rd</text>
<text x="2784.0" y="1765.9" font-family="'Liberation Sans', sans-serif" font-size="24.6" font-weight="bold" text-anchor="start" textLength="92.7" lengthAdjust="spacingAndGlyphs" fill="none" stroke="#fff" stroke-width="6" stroke-linejoin="round" >E 128th</text>
<text x="2784.0" y="1765.9" font-family="'Liberation Sans', sans-serif" font-size="24.6" font-weight="bold" text-anchor="start" textLength="92.7" lengthAdjust="spacingAndGlyphs" fill="#000" >E 128th</text>
<text x="2805.4" y="1802" font-family="'Liberation Sans', sans-serif" font-size="24.6" font-weight="bold" text-anchor="start" textLength="47.800000000000004" lengthAdjust="spacingAndGlyphs" fill="none" stroke="#fff" stroke-width="6" stroke-linejoin="round" >Ave</text>
<text x="2805.4" y="1802" font-family="'Liberation Sans', sans-serif" font-size="24.6" font-weight="bold" text-anchor="start" textLength="47.800000000000004" lengthAdjust="spacingAndGlyphs" fill="#000" >Ave</text>
<rect x="2602" y="2400" width="152" height="22" fill="#fff"/>
<text x="2604.3" y="2419.6" font-family="'Liberation Sans', sans-serif" font-size="24.6" font-weight="bold" text-anchor="start" textLength="146.2" lengthAdjust="spacingAndGlyphs" fill="none" stroke="#fff" stroke-width="6" stroke-linejoin="round" >E 120th Ave</text>
<text x="2604.3" y="2419.6" font-family="'Liberation Sans', sans-serif" font-size="24.6" font-weight="bold" text-anchor="start" textLength="146.2" lengthAdjust="spacingAndGlyphs" fill="#000" >E 120th Ave</text>
<text x="2472.8" y="1483.0" font-family="'Liberation Sans', sans-serif" font-size="42.6" font-weight="normal" text-anchor="middle" textLength="208.1" lengthAdjust="spacingAndGlyphs" fill="#000" >Watkins Rd</text>
<text x="2472.8" y="1583.56" font-family="'Liberation Sans', sans-serif" font-size="42.6" font-weight="normal" text-anchor="middle" textLength="143.6" lengthAdjust="spacingAndGlyphs" fill="#000" >E 120th</text>
<text x="2472.8" y="1633.84" font-family="'Liberation Sans', sans-serif" font-size="42.6" font-weight="normal" text-anchor="middle" textLength="120.3" lengthAdjust="spacingAndGlyphs" fill="#000" >Ave to</text>
<text x="2472.8" y="1684.12" font-family="'Liberation Sans', sans-serif" font-size="42.6" font-weight="normal" text-anchor="middle" textLength="196.2" lengthAdjust="spacingAndGlyphs" fill="#000" >Just South</text>
<text x="2472.8" y="1734.4" font-family="'Liberation Sans', sans-serif" font-size="42.6" font-weight="normal" text-anchor="middle" textLength="40.6" lengthAdjust="spacingAndGlyphs" fill="#000" >of</text>
<text x="2472.8" y="1784.68" font-family="'Liberation Sans', sans-serif" font-size="42.6" font-weight="normal" text-anchor="middle" textLength="143.6" lengthAdjust="spacingAndGlyphs" fill="#000" >E 136th</text>
<text x="2472.8" y="1834.96" font-family="'Liberation Sans', sans-serif" font-size="42.6" font-weight="normal" text-anchor="middle" textLength="72.6" lengthAdjust="spacingAndGlyphs" fill="#000" >Ave</text>
<rect x="152.9" y="2196.0" width="1164.1" height="272.2" fill="none" stroke="#000" stroke-width="4.05" stroke-linejoin="round"/>
<text x="519.6" y="2319.8" font-family="'Liberation Sans', sans-serif" font-size="68.5" font-weight="normal" text-anchor="middle" textLength="603.5" lengthAdjust="spacingAndGlyphs" fill="#000" >2024 Paving Program</text>
<text x="519.2" y="2396.4" font-family="'Liberation Sans', sans-serif" font-size="68.5" font-weight="normal" text-anchor="middle" textLength="158" lengthAdjust="spacingAndGlyphs" fill="#000" >Areas</text>
<rect x="856.3" y="2301.8" width="58.6" height="7.9" fill="#fe0000"/>
<text x="931.0" y="2322.1" font-family="'Liberation Sans', sans-serif" font-size="40.4" font-weight="normal" text-anchor="start" textLength="212.5" lengthAdjust="spacingAndGlyphs" fill="#000" >Work Areas</text>
<text x="1227.8" y="2283.6" font-family="'Liberation Sans', sans-serif" font-size="46.4" font-weight="normal" text-anchor="middle" fill="#000" >N</text>
<path d="M1227.2,2293 L1259.7,2402.8 L1227.2,2362.8 L1194.8,2402.8Z" fill="#000"/>
<path d="M1229,2307.5 L1252.6,2388.5 L1229,2359.5Z" fill="#fff"/>
</svg></body></html>
